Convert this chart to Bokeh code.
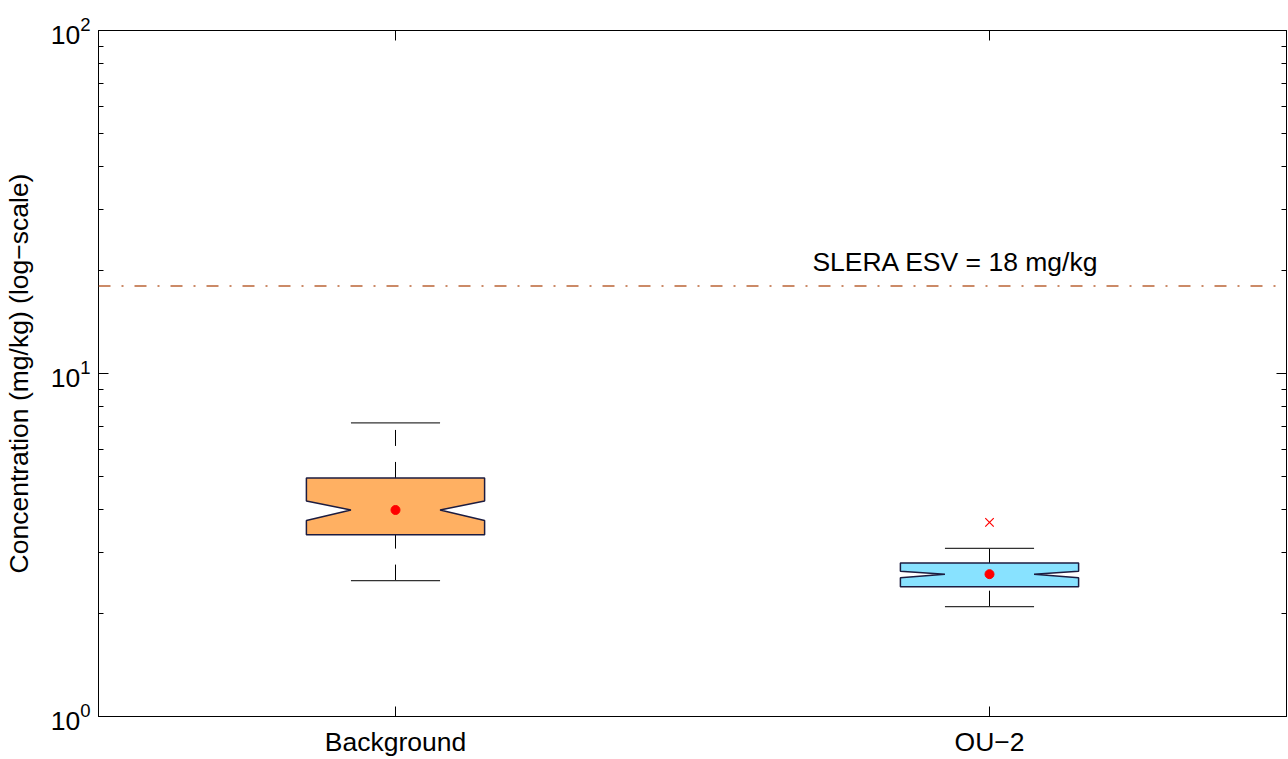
from bokeh.plotting import figure
from bokeh.models import (FixedTicker, LogAxis, LinearAxis, Span, Label, Range1d,
                          CustomJSTickFormatter)
from bokeh.embed import file_html
from bokeh.resources import INLINE

# ---- data ----
groups = ["Background", "OU\u22122"]
positions = [1, 2]
q1 = [3.39, 2.39]
q3 = [4.96, 2.80]
medians = [4.0, 2.60]
notch_lo = [3.73, 2.54]
notch_hi = [4.25, 2.65]
whisker_lo = [2.49, 2.09]
whisker_hi = [7.18, 3.09]
means = [4.0, 2.60]
outlier_pos = [2]
outlier_values = [3.68]
box_colors = ["#FFB062", "#88E2FF"]
esv_value = 18
esv_label = "SLERA ESV = 18 mg/kg"
y_ticks = [1, 10, 100]
y_minor = [m * d for d in (1, 10) for m in range(2, 10)]

FONT = "Liberation Sans"
FS = "26.5px"
BOX_W = 0.3
CAP_W = 0.15

p = figure(width=1288, height=759, x_range=Range1d(0.5, 2.5), y_range=Range1d(1, 100),
           y_axis_type="log", output_backend="svg", toolbar_location=None,
           min_border_left=98, min_border_right=2, min_border_top=30, min_border_bottom=42)
p.grid.visible = False
p.outline_line_color = "black"
p.outline_line_width = 1
p.background_fill_color = "white"
p.border_fill_color = "white"

def style_axis(ax):
    ax.axis_line_color = "black"
    ax.axis_line_width = 1
    ax.major_tick_in = 10
    ax.major_tick_out = 0
    ax.minor_tick_in = 5
    ax.minor_tick_out = 0
    ax.major_tick_line_color = "black"
    ax.minor_tick_line_color = "black"
    ax.major_label_text_font = FONT
    ax.major_label_text_font_size = FS
    ax.major_label_text_color = "black"

# y axes
yax = p.yaxis[0]
yax.ticker = FixedTicker(ticks=y_ticks, minor_ticks=y_minor)
style_axis(yax)
yax.major_label_standoff = 8
yax.axis_label = "Concentration (mg/kg) (log\u2212scale)"
yax.axis_label_text_font = FONT
yax.axis_label_text_font_size = FS
yax.axis_label_text_font_style = "normal"
yax.axis_label_text_color = "black"
yax.axis_label_standoff = 14

empty = CustomJSTickFormatter(code="return ''")
right = LogAxis(ticker=FixedTicker(ticks=y_ticks, minor_ticks=y_minor), formatter=empty)
style_axis(right)
right.major_label_standoff = 0
p.add_layout(right, "right")

# x axes
xax = p.xaxis[0]
xax.ticker = FixedTicker(ticks=positions, minor_ticks=[])
xax.major_label_overrides = dict(zip(positions, groups))
style_axis(xax)
xax.major_label_standoff = 10

top = LinearAxis(ticker=FixedTicker(ticks=positions, minor_ticks=[]), formatter=empty)
style_axis(top)
top.major_label_standoff = 0
p.add_layout(top, "above")

# whiskers (drawn from low to high value)
p.segment(x0=positions, y0=whisker_lo, x1=positions, y1=q1,
          line_color="black", line_width=1, line_dash="16 16")
p.segment(x0=positions, y0=q3, x1=positions, y1=whisker_hi,
          line_color="black", line_width=1, line_dash="16 16")
# caps
p.segment(x0=[x - CAP_W / 2 for x in positions], y0=whisker_lo,
          x1=[x + CAP_W / 2 for x in positions], y1=whisker_lo,
          line_color="#333333", line_width=1.3)
p.segment(x0=[x - CAP_W / 2 for x in positions], y0=whisker_hi,
          x1=[x + CAP_W / 2 for x in positions], y1=whisker_hi,
          line_color="#333333", line_width=1.3)

# notched boxes
xs, ys = [], []
for x, a, b, m, nl, nh in zip(positions, q1, q3, medians, notch_lo, notch_hi):
    l, r = x - BOX_W / 2, x + BOX_W / 2
    li, ri = x - BOX_W / 4, x + BOX_W / 4
    xs.append([l, r, r, ri, r, r, l, l, li, l])
    ys.append([b, b, nh, m, nl, a, a, nl, m, nh])
p.patches(xs=xs, ys=ys, fill_color=box_colors, line_color="#1c1c40", line_width=1.5)

# means & outliers
p.scatter(positions, means, size=9, fill_color="red", line_color="red")
p.scatter(outlier_pos, outlier_values, marker="x", size=12, line_color="red", line_width=1.2)

# reference line
p.add_layout(Span(location=esv_value, dimension="width", line_color="#BA6436",
                  line_width=1.5, line_dash="12 11 2 11"))
p.add_layout(Label(x=1.943, y=21.1, text=esv_label, text_align="center",
                   text_baseline="alphabetic", text_font=FONT, text_font_size=FS,
                   text_color="black"))

open("out.html", "w").write(file_html(p, INLINE))
